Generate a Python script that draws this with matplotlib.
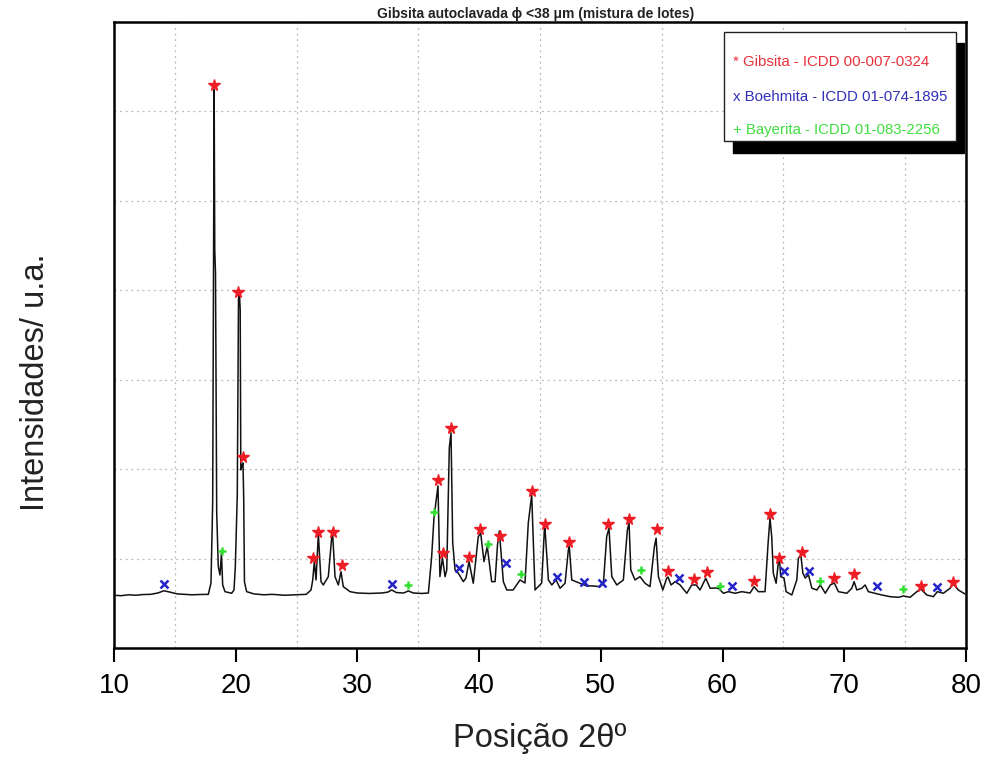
import matplotlib
matplotlib.use("Agg")
import matplotlib.pyplot as plt
from matplotlib.patches import Rectangle

# diffractogram (2theta in degrees, intensity in a.u.)
two_theta = [10.0, 10.6, 11.2, 11.8, 12.4, 13.0, 13.6, 14.1, 14.6, 15.2, 15.8, 16.4, 17.0,
             17.75, 17.97, 18.11, 18.23, 18.28, 18.34, 18.44, 18.57, 18.71, 18.83, 18.93,
             19.12, 19.67, 19.86, 19.97, 20.13, 20.23, 20.30, 20.37, 20.42, 20.54, 20.60,
             20.66, 20.72, 20.90, 21.5, 22.3, 23.0, 24.0, 25.0, 25.8, 26.19, 26.33, 26.46,
             26.60, 26.79, 27.01, 27.20, 27.61, 27.89, 27.97, 28.16, 28.43, 28.65, 28.84,
             29.39, 30.0, 31.0, 32.0, 32.5, 32.82, 33.2, 33.8, 34.18, 34.6, 35.3, 35.83,
             36.10, 36.29, 36.62, 36.78, 36.99, 37.20, 37.34, 37.55, 37.69, 37.83, 38.02,
             38.29, 38.70, 38.92, 39.17, 39.52, 39.93, 40.13, 40.40, 40.67, 41.03, 41.31,
             41.51, 41.66, 41.99, 42.27, 42.79, 43.36, 43.77, 44.04, 44.32, 44.59, 45.14,
             45.36, 45.41, 45.69, 45.97, 46.32, 46.65, 47.06, 47.33, 47.41, 47.61, 48.29,
             48.84, 49.36, 49.93, 50.21, 50.48, 50.67, 50.90, 51.31, 51.85, 52.18, 52.32,
             52.46, 52.81, 53.22, 53.63, 54.04, 54.40, 54.54, 54.73, 55.09, 55.41, 55.52,
             55.77, 56.10, 56.51, 57.06, 57.47, 57.83, 58.15, 58.62, 58.98, 59.31, 59.66,
             60.07, 60.48, 61.03, 61.58, 62.26, 62.59, 62.94, 63.49, 63.76, 63.90, 64.04,
             64.17, 64.40, 64.59, 64.67, 64.78, 65.05, 65.22, 65.69, 66.10, 66.23, 66.43,
             66.60, 66.79, 67.06, 67.34, 67.75, 68.03, 68.44, 68.85, 69.18, 69.52, 70.21,
             70.62, 70.81, 71.03, 71.44, 71.71, 71.98, 72.53, 73.08, 73.77, 74.45, 74.86,
             75.41, 75.96, 76.29, 76.78, 77.32, 77.65, 78.14, 78.69, 78.96, 79.37, 79.92]
intensity = [590, 585, 595, 590, 598, 600, 615, 640, 625, 605, 600, 595, 598,
             600, 727, 1637, 6244, 4454, 4196, 1511, 910, 817, 1063, 705,
             630, 612, 649, 910, 1712, 3894, 3984, 3782, 1992, 2048, 2070,
             1656, 738, 630, 605, 595, 600, 590, 595, 600, 649, 761, 966,
             761, 1276, 742, 705, 798, 1242, 1264, 798, 705, 854, 686,
             630, 615, 610, 615, 625, 649, 620, 615, 638, 615, 610, 615,
             1022, 1455, 1813, 798, 1007, 798, 873, 2238, 2406, 1175, 873,
             836, 742, 783, 966, 724, 1245, 1283, 966, 1134, 742, 742,
             1153, 1309, 742, 649, 649, 761, 727, 1399, 1712, 649, 727,
             1320, 1343, 761, 705, 761, 668, 724, 1097, 1134, 761, 724,
             694, 694, 686, 724, 1245, 1339, 798, 705, 761, 1320, 1395,
             873, 761, 798, 724, 686, 1134, 1228, 798, 649, 780, 794,
             705, 742, 705, 612, 705, 705, 649, 780, 668, 671, 668,
             612, 630, 612, 630, 615, 686, 630, 630, 1209, 1451, 1245,
             836, 724, 966, 1007, 798, 783, 630, 593, 761, 1004, 1041,
             836, 783, 817, 668, 649, 705, 612, 705, 727, 630, 612,
             668, 742, 649, 668, 705, 630, 612, 593, 574, 567, 582,
             567, 630, 660, 593, 574, 630, 612, 668, 716, 649, 604]

# phase identification marks
gibbsite_x = [18.24, 20.19, 20.62, 26.38, 26.80, 28.01, 28.73, 36.60, 37.01, 37.69,
              39.15, 40.10, 41.72, 44.35, 45.41, 47.39, 50.62, 52.34, 54.59, 55.55,
              57.66, 58.70, 62.60, 63.93, 64.67, 66.51, 69.16, 70.83, 76.29, 78.96]
gibbsite_y = [6292, 3984, 2141, 1002, 1292, 1301, 923, 1880, 1066, 2458,
              1022, 1332, 1248, 1751, 1385, 1183, 1388, 1444, 1328, 862,
              775, 845, 744, 1499, 1010, 1071, 780, 828, 697, 742]
boehmite_x = [14.08, 32.82, 38.35, 42.21, 46.40, 48.64, 50.12, 56.45, 60.76, 65.05,
              67.09, 72.67, 77.65]
boehmite_y = [716, 716, 890, 946, 794, 735, 724, 780, 697, 862, 862, 697, 679]
bayerite_x = [18.91, 34.18, 36.32, 40.77, 43.44, 53.28, 59.75, 68.01, 74.81]
bayerite_y = [1080, 699, 1525, 1164, 828, 867, 697, 753, 660]

legend_labels = ["* Gibsita - ICDD 00-007-0324",
                 "x Boehmita - ICDD 01-074-1895",
                 "+ Bayerita - ICDD 01-083-2256"]
legend_colors = ["#e8303a", "#3030b8", "#40e040"]

plt.rcParams['font.family'] = ['Liberation Sans', 'DejaVu Sans']

fig = plt.figure(figsize=(9.86, 7.62), dpi=100)
ax = fig.add_axes([0.1156, 0.1496, 0.8641, 0.8215])

ax.plot(two_theta, intensity, color='#111111', lw=1.1, zorder=3)
ax.plot(gibbsite_x, gibbsite_y, ls='none', marker='*', ms=8.5, color='#ee1c24', zorder=4)
ax.plot(boehmite_x, boehmite_y, ls='none', marker='x', ms=6, mew=1.8, color='#2424c8', zorder=4)
ax.plot(bayerite_x, bayerite_y, ls='none', marker='+', ms=6, mew=1.8, color='#30e030', zorder=4)

ax.set_xlim(10, 80)
ax.set_ylim(0, 7000)
ax.set_xticks(range(10, 81, 10))
ax.set_xticks(range(15, 80, 10), minor=True)
ax.set_yticks([])
ax.set_yticks(range(1000, 7000, 1000), minor=True)
ax.tick_params(axis='x', which='major', direction='out', length=10, width=1.5,
               pad=8, labelsize=20)
ax.tick_params(axis='x', which='minor', length=0)
ax.tick_params(axis='y', which='minor', length=0)
ax.grid(True, which='minor', ls=(0, (1.5, 3)), color='#b8b8b8', lw=0.9)
for sp in ax.spines.values():
    sp.set_linewidth(1.8)

fig.text(0.5436, 0.982, "Gibsita autoclavada ϕ <38 μm (mistura de lotes)",
         ha='center', va='center', fontsize=10, fontweight='bold', color='#222222')
fig.text(0.5477, 0.031, "Posição 2θº", ha='center', va='center', fontsize=23.5,
         color='#222222')
fig.text(0.0355, 0.4987, "Intensidades/ u.a.", ha='center', va='center', fontsize=23.5,
         rotation=90, color='#222222')

# legend box with its drop shadow
fig.patches.append(Rectangle((0.7434, 0.7992), 0.2343, 0.1444, transform=fig.transFigure,
                             facecolor='black', edgecolor='black', zorder=5))
fig.patches.append(Rectangle((0.7343, 0.8150), 0.2353, 0.1430, transform=fig.transFigure,
                             facecolor='white', edgecolor='#222222', lw=1.0, zorder=6))
for lab, col, yy in zip(legend_labels, legend_colors, [0.9186, 0.8727, 0.8294]):
    fig.text(0.7434, yy, lab, color=col, fontsize=10.8, va='center', ha='left', zorder=7)

fig.savefig("out.png", dpi=100)
